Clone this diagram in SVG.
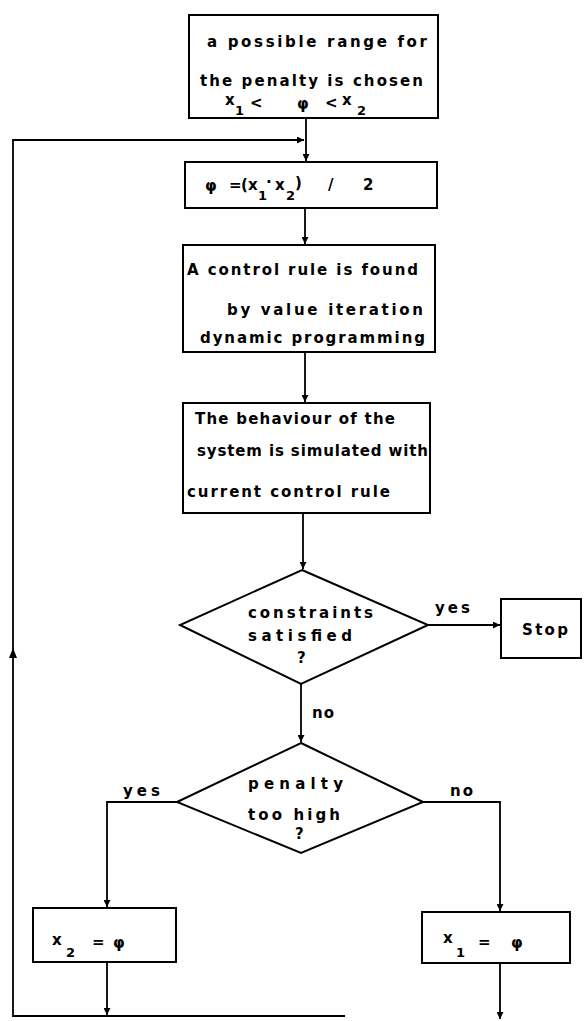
<svg xmlns="http://www.w3.org/2000/svg" width="587" height="1021" viewBox="0 0 587 1021">
<style>
.box{fill:#fff;stroke:#000;stroke-width:2}
.ln{fill:none;stroke:#000;stroke-width:1.8}
.t{font-family:"DejaVu Sans",sans-serif;font-weight:bold;font-size:15px;fill:#000}
.s{font-size:13px}
</style>
<defs>
<marker id="ah" viewBox="0 0 10 10" refX="10" refY="5" markerWidth="7" markerHeight="7" orient="auto" markerUnits="userSpaceOnUse">
<path d="M0,0 L10,5 L0,10 Z" fill="#000"/>
</marker>
</defs>
<rect width="587" height="1021" fill="#fff"/>
<g id="connectors">
<line class="ln" x1="306" y1="118" x2="306" y2="161" marker-end="url(#ah)"/>
<line class="ln" x1="305" y1="208" x2="305" y2="244" marker-end="url(#ah)"/>
<line class="ln" x1="305" y1="352" x2="305" y2="402" marker-end="url(#ah)"/>
<line class="ln" x1="303" y1="513" x2="303" y2="569" marker-end="url(#ah)"/>
<line class="ln" x1="428" y1="625" x2="500" y2="625" marker-end="url(#ah)"/>
<line class="ln" x1="301" y1="684" x2="301" y2="742" marker-end="url(#ah)"/>
<polyline class="ln" points="177,802 107,802 107,907" marker-end="url(#ah)"/>
<polyline class="ln" points="423,802 500,802 500,911" marker-end="url(#ah)"/>
<line class="ln" x1="107" y1="962" x2="107" y2="1015" marker-end="url(#ah)"/>
<line class="ln" x1="500" y1="963" x2="500" y2="1019" marker-end="url(#ah)"/>
<polyline class="ln" points="345,1016 13,1016 13,140 304,140" marker-end="url(#ah)"/>
<path d="M9,658 L13,648 L17,658 Z" fill="#000"/>
</g>
<g id="n-range">
<rect class="box" x="189" y="15" width="249" height="103"/>
<text class="t" x="207" y="47" textLength="220" lengthAdjust="spacing">a possible range for</text>
<text class="t" x="200" y="86" textLength="223" lengthAdjust="spacing">the penalty is chosen</text>
<text class="t" x="225" y="105">x</text><text class="t s" x="235" y="115">1</text>
<text class="t" x="250" y="108">&lt;</text>
<text class="t" x="297" y="109">φ</text>
<text class="t" x="325" y="108">&lt;</text>
<text class="t" x="342" y="105">x</text><text class="t s" x="357" y="115">2</text>
</g>
<g id="n-phi">
<rect class="box" x="185" y="162" width="252" height="46"/>
<text class="t" x="205" y="191">φ</text>
<text class="t" x="229" y="190">=</text>
<text class="t" x="241" y="190">(</text>
<text class="t" x="248" y="190">x</text><text class="t s" x="258" y="200">1</text>
<text class="t" x="266" y="187">·</text>
<text class="t" x="275" y="190">x</text><text class="t s" x="286" y="200">2</text>
<text class="t" x="295" y="188">)</text>
<text class="t" x="328" y="190">/</text>
<text class="t" x="363" y="190">2</text>
</g>
<g id="n-control">
<rect class="box" x="183" y="245" width="252" height="107"/>
<text class="t" x="187" y="275" textLength="231" lengthAdjust="spacing">A control rule is found</text>
<text class="t" x="227" y="315" textLength="196" lengthAdjust="spacing">by value iteration</text>
<text class="t" x="200" y="343" textLength="225" lengthAdjust="spacing">dynamic programming</text>
</g>
<g id="n-simulate">
<rect class="box" x="183" y="403" width="247" height="110"/>
<text class="t" x="195" y="424" textLength="200" lengthAdjust="spacing">The behaviour of the</text>
<text class="t" x="197" y="456" textLength="231" lengthAdjust="spacing">system is simulated with</text>
<text class="t" x="187" y="497" textLength="203" lengthAdjust="spacing">current control rule</text>
</g>
<g id="n-constraints">
<polygon class="box" points="302,570 428,625 301,684 180,625"/>
<text class="t" x="248" y="618" textLength="125" lengthAdjust="spacing">constraints</text>
<text class="t" x="248" y="641" textLength="104" lengthAdjust="spacing">satisfied</text>
<text class="t" x="297" y="663">?</text>
</g>
<text class="t" x="435" y="613" textLength="35" lengthAdjust="spacing">yes</text>
<g id="n-stop">
<rect class="box" x="501" y="599" width="80" height="59"/>
<text class="t" x="522" y="635" textLength="46" lengthAdjust="spacing">Stop</text>
</g>
<text class="t" x="312" y="718" textLength="22" lengthAdjust="spacing">no</text>
<g id="n-penalty">
<polygon class="box" points="301,743 423,802 301,853 177,802"/>
<text class="t" x="248" y="789" textLength="95" lengthAdjust="spacing">penalty</text>
<text class="t" x="248" y="820" textLength="92" lengthAdjust="spacing">too high</text>
<text class="t" x="295" y="839">?</text>
</g>
<text class="t" x="123" y="796" textLength="37" lengthAdjust="spacing">yes</text>
<text class="t" x="450" y="796" textLength="23" lengthAdjust="spacing">no</text>
<g id="n-x2">
<rect class="box" x="33" y="908" width="143" height="54"/>
<text class="t" x="52" y="945">x</text><text class="t s" x="66" y="957">2</text>
<text class="t" x="92" y="947">=</text>
<text class="t" x="113" y="948">φ</text>
</g>
<g id="n-x1">
<rect class="box" x="422" y="912" width="148" height="51"/>
<text class="t" x="443" y="943">x</text><text class="t s" x="456" y="957">1</text>
<text class="t" x="478" y="947">=</text>
<text class="t" x="511" y="948">φ</text>
</g>
</svg>
